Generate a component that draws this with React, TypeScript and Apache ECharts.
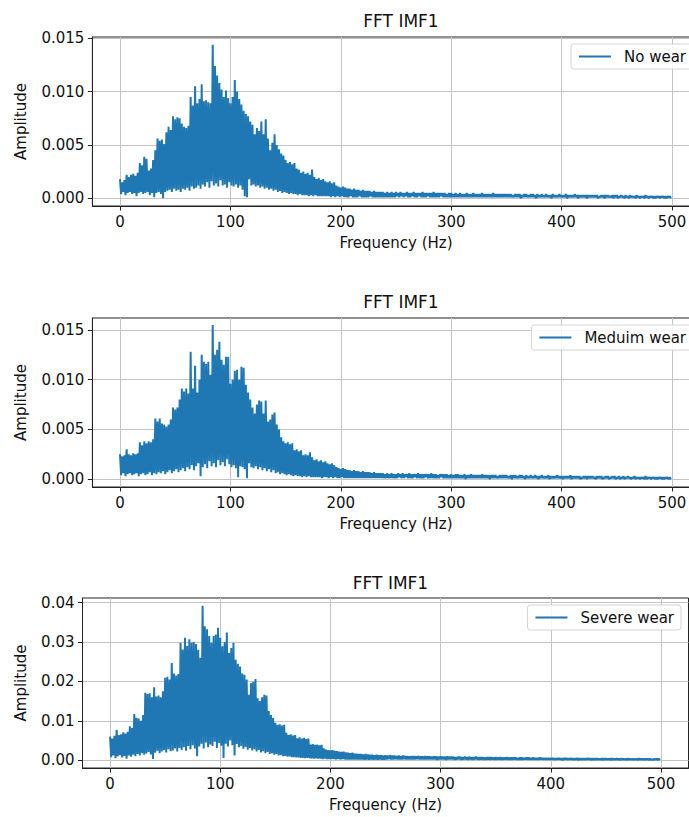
import React, { useEffect, useRef } from "react";
import * as echarts from "echarts";

// ---------------- data ----------------
const TITLE = "FFT IMF1";
const SERIES_NAMES = ["No wear", "Meduim wear", "Severe wear"];
const X_LABEL = "Frequency (Hz)";
const Y_LABEL = "Amplitude";
const X_TICKS = [0, 100, 200, 300, 400, 500];
const Y_TICKS_1 = [0, 0.005, 0.01, 0.015];
const Y_TICKS_2 = [0, 0.005, 0.01, 0.015];
const Y_TICKS_3 = [0, 0.01, 0.02, 0.03, 0.04];

// Spectrum samples: local maxima at even Hz and local minima at odd Hz.
// "Peaks"/"Troughs" cover 0..249 Hz, "TailPeaks"/"TailTroughs" cover 250..499 Hz.
const noWearPeaks = [
  0.0018, 0.0015, 0.0017, 0.0022, 0.0020, 0.0022, 0.0023, 0.0021, 0.0024, 0.0033, 0.0031, 0.0039, 0.0037, 0.0026, 0.0028, 0.0036,
  0.0045, 0.0056, 0.0054, 0.0055, 0.0051, 0.0062, 0.0067, 0.0064, 0.0077, 0.0074, 0.0076, 0.0075, 0.0070, 0.0067, 0.0066, 0.0068,
  0.0095, 0.0087, 0.0105, 0.0089, 0.0093, 0.0107, 0.0091, 0.0092, 0.0090, 0.0089, 0.0144, 0.0124, 0.0115, 0.0108, 0.0102, 0.0095,
  0.0101, 0.0094, 0.0089, 0.0095, 0.0111, 0.0100, 0.0093, 0.0088, 0.0082, 0.0079, 0.0077, 0.0072, 0.0069, 0.0060, 0.0066, 0.0063,
  0.0072, 0.0060, 0.0074, 0.0056, 0.0045, 0.0052, 0.0060, 0.0050, 0.0046, 0.0042, 0.0040, 0.0036, 0.0033, 0.0034, 0.0032, 0.0033,
  0.0028, 0.0027, 0.0024, 0.0025, 0.0023, 0.0024, 0.0022, 0.0027, 0.0020, 0.0018, 0.0019, 0.0017, 0.0018, 0.0016, 0.0015, 0.0016,
  0.0014, 0.0015, 0.0012, 0.0011, 0.0010, 0.0011, 0.0010, 0.0009, 0.0009, 0.0008, 0.0009, 0.0008, 0.0008, 0.0007, 0.0008, 0.0007,
  0.0007, 0.0007, 0.0006, 0.0007, 0.0006, 0.0006, 0.0006, 0.0006, 0.0005, 0.0006, 0.0005, 0.0006, 0.0005,
];
const noWearTroughs = [
  0.0004, 0.0006, 0.0003, 0.0005, 0.0006, 0.0004, 0.0005, 0.0002, 0.0005, 0.0006, 0.0004, 0.0005, 0.0006, 0.0003, 0.0005, 0.0001,
  0.0005, 0.0006, 0.0004, 0.0000, 0.0006, 0.0007, 0.0008, 0.0006, 0.0009, 0.0007, 0.0008, 0.0006, 0.0009, 0.0008, 0.0010, 0.0007,
  0.0011, 0.0009, 0.0010, 0.0012, 0.0009, 0.0013, 0.0011, 0.0015, 0.0010, 0.0016, 0.0012, 0.0014, 0.0011, 0.0017, 0.0012, 0.0013,
  0.0010, 0.0015, 0.0012, 0.0011, 0.0013, 0.0010, 0.0012, 0.0008, 0.0002, 0.0001, 0.0018, 0.0012, 0.0013, 0.0011, 0.0012, 0.0010,
  0.0011, 0.0009, 0.0010, 0.0008, 0.0009, 0.0007, 0.0008, 0.0006, 0.0007, 0.0005, 0.0006, 0.0005, 0.0004, 0.0005, 0.0004, 0.0004,
  0.0003, 0.0004, 0.0003, 0.0003, 0.0003, 0.0002, 0.0003, 0.0002, 0.0003, 0.0002, 0.0002, 0.0002, 0.0002, 0.0002, 0.0002, 0.0001,
  0.0002, 0.0001, 0.0002, 0.0001, 0.0002, 0.0001, 0.0001, 0.0001, 0.0002, 0.0001, 0.0001, 0.0001, 0.0002, 0.0001, 0.0001, 0.0001,
  0.0001, 0.0002, 0.0001, 0.0001, 0.0001, 0.0001, 0.0001, 0.0001, 0.0001, 0.0001, 0.0001, 0.0001, 0.0001,
];
const noWearTailPeaks = [
  0.0006, 0.0005, 0.0006, 0.0005, 0.0005, 0.0006, 0.0005, 0.0005, 0.0006, 0.0005, 0.0005, 0.0005, 0.0006, 0.0005, 0.0005, 0.0005, 0.0005, 0.0006, 0.0005, 0.0005, 0.0005, 0.0005, 0.0005, 0.0004, 0.0005,
  0.0005, 0.0004, 0.0005, 0.0004, 0.0005, 0.0004, 0.0004, 0.0005, 0.0004, 0.0004, 0.0005, 0.0004, 0.0004, 0.0004, 0.0005, 0.0004, 0.0004, 0.0004, 0.0004, 0.0005, 0.0004, 0.0004, 0.0004, 0.0004, 0.0004,
  0.0004, 0.0004, 0.0004, 0.0003, 0.0004, 0.0004, 0.0004, 0.0003, 0.0004, 0.0004, 0.0003, 0.0004, 0.0004, 0.0003, 0.0004, 0.0003, 0.0004, 0.0003, 0.0004, 0.0003, 0.0003, 0.0004, 0.0003, 0.0003, 0.0004,
  0.0003, 0.0003, 0.0004, 0.0003, 0.0003, 0.0003, 0.0004, 0.0003, 0.0003, 0.0003, 0.0003, 0.0003, 0.0003, 0.0003, 0.0003, 0.0003, 0.0003, 0.0002, 0.0003, 0.0003, 0.0003, 0.0003, 0.0002, 0.0003, 0.0003,
  0.0003, 0.0002, 0.0003, 0.0002, 0.0003, 0.0002, 0.0003, 0.0002, 0.0002, 0.0003, 0.0002, 0.0002, 0.0002, 0.0003, 0.0002, 0.0002, 0.0002, 0.0002, 0.0002, 0.0002, 0.0002, 0.0002, 0.0002, 0.0002, 0.0002,
];
const noWearTailTroughs = [
  0.0002, 0.0001, 0.0002, 0.0001, 0.0002, 0.0001, 0.0001, 0.0002, 0.0001, 0.0001, 0.0002, 0.0001, 0.0001, 0.0001, 0.0002, 0.0001, 0.0001, 0.0001, 0.0001, 0.0001, 0.0002, 0.0001, 0.0001, 0.0001, 0.0001,
  0.0001, 0.0001, 0.0001, 0.0001, 0.0001, 0.0001, 0.0001, 0.0001, 0.0001, 0.0001, 0.0001, 0.0001, 0.0001, 0.0001, 0.0001, 0.0001, 0.0001, 0.0001, 0.0001, 0.0001, 0.0001, 0.0001, 0.0001, 0.0001, 0.0001,
  0.0001, 0.0001, 0.0001, 0.0001, 0.0001, 0.0001, 0.0000, 0.0001, 0.0001, 0.0001, 0.0001, 0.0001, 0.0001, 0.0000, 0.0001, 0.0001, 0.0001, 0.0001, 0.0001, 0.0001, 0.0000, 0.0001, 0.0001, 0.0001, 0.0001,
  0.0001, 0.0001, 0.0000, 0.0001, 0.0001, 0.0001, 0.0001, 0.0000, 0.0001, 0.0001, 0.0001, 0.0000, 0.0001, 0.0001, 0.0001, 0.0001, 0.0000, 0.0001, 0.0001, 0.0000, 0.0001, 0.0001, 0.0001, 0.0000, 0.0001,
  0.0000, 0.0001, 0.0001, 0.0000, 0.0001, 0.0000, 0.0001, 0.0001, 0.0000, 0.0001, 0.0000, 0.0001, 0.0000, 0.0001, 0.0000, 0.0001, 0.0000, 0.0000, 0.0001, 0.0000, 0.0001, 0.0000, 0.0000, 0.0001, 0.0000,
];

const mediumWearPeaks = [
  0.0025, 0.0023, 0.0024, 0.0030, 0.0025, 0.0024, 0.0026, 0.0025, 0.0026, 0.0037, 0.0034, 0.0038, 0.0036, 0.0038, 0.0037, 0.0040,
  0.0061, 0.0058, 0.0061, 0.0056, 0.0055, 0.0053, 0.0055, 0.0060, 0.0072, 0.0070, 0.0072, 0.0080, 0.0091, 0.0088, 0.0091, 0.0086,
  0.0128, 0.0091, 0.0114, 0.0087, 0.0100, 0.0125, 0.0118, 0.0116, 0.0118, 0.0105, 0.0155, 0.0125, 0.0130, 0.0138, 0.0120, 0.0115,
  0.0123, 0.0123, 0.0096, 0.0100, 0.0109, 0.0110, 0.0100, 0.0113, 0.0112, 0.0095, 0.0087, 0.0080, 0.0072, 0.0066, 0.0075, 0.0079,
  0.0078, 0.0066, 0.0079, 0.0058, 0.0060, 0.0065, 0.0067, 0.0055, 0.0050, 0.0042, 0.0038, 0.0036, 0.0037, 0.0035, 0.0036, 0.0029,
  0.0030, 0.0028, 0.0029, 0.0024, 0.0025, 0.0024, 0.0027, 0.0022, 0.0019, 0.0020, 0.0018, 0.0019, 0.0017, 0.0018, 0.0016, 0.0015,
  0.0016, 0.0014, 0.0012, 0.0011, 0.0010, 0.0011, 0.0010, 0.0009, 0.0009, 0.0008, 0.0009, 0.0008, 0.0008, 0.0007, 0.0008, 0.0007,
  0.0007, 0.0007, 0.0006, 0.0007, 0.0006, 0.0006, 0.0006, 0.0006, 0.0005, 0.0006, 0.0005, 0.0006, 0.0005,
];
const mediumWearTroughs = [
  0.0004, 0.0006, 0.0003, 0.0005, 0.0006, 0.0004, 0.0005, 0.0006, 0.0003, 0.0005, 0.0006, 0.0004, 0.0005, 0.0007, 0.0004, 0.0006,
  0.0005, 0.0007, 0.0006, 0.0008, 0.0005, 0.0007, 0.0009, 0.0006, 0.0008, 0.0010, 0.0007, 0.0009, 0.0011, 0.0008, 0.0012, 0.0010,
  0.0014, 0.0009, 0.0013, 0.0016, 0.0003, 0.0012, 0.0015, 0.0011, 0.0018, 0.0013, 0.0016, 0.0012, 0.0019, 0.0014, 0.0017, 0.0013,
  0.0020, 0.0015, 0.0012, 0.0014, 0.0011, 0.0002, 0.0013, 0.0012, 0.0010, 0.0001, 0.0016, 0.0012, 0.0011, 0.0013, 0.0010, 0.0012,
  0.0009, 0.0011, 0.0008, 0.0010, 0.0007, 0.0009, 0.0006, 0.0007, 0.0005, 0.0006, 0.0005, 0.0004, 0.0005, 0.0004, 0.0003, 0.0004,
  0.0003, 0.0003, 0.0002, 0.0003, 0.0002, 0.0003, 0.0002, 0.0002, 0.0002, 0.0002, 0.0002, 0.0001, 0.0002, 0.0002, 0.0001, 0.0002,
  0.0001, 0.0002, 0.0001, 0.0001, 0.0002, 0.0001, 0.0001, 0.0001, 0.0001, 0.0001, 0.0001, 0.0001, 0.0001, 0.0001, 0.0001, 0.0001,
  0.0001, 0.0001, 0.0001, 0.0001, 0.0001, 0.0001, 0.0001, 0.0001, 0.0001, 0.0001, 0.0001, 0.0001, 0.0001,
];
const mediumWearTailPeaks = [
  0.0005, 0.0006, 0.0005, 0.0006, 0.0005, 0.0005, 0.0006, 0.0005, 0.0005, 0.0005, 0.0006, 0.0005, 0.0005, 0.0005, 0.0005, 0.0005, 0.0006, 0.0005, 0.0005, 0.0004, 0.0005, 0.0005, 0.0005, 0.0005, 0.0004,
  0.0005, 0.0004, 0.0005, 0.0005, 0.0004, 0.0004, 0.0005, 0.0004, 0.0004, 0.0005, 0.0004, 0.0004, 0.0004, 0.0004, 0.0005, 0.0004, 0.0004, 0.0004, 0.0004, 0.0004, 0.0004, 0.0003, 0.0004, 0.0004, 0.0004,
  0.0004, 0.0003, 0.0004, 0.0004, 0.0004, 0.0003, 0.0004, 0.0004, 0.0003, 0.0004, 0.0003, 0.0004, 0.0003, 0.0004, 0.0003, 0.0003, 0.0004, 0.0003, 0.0003, 0.0004, 0.0003, 0.0003, 0.0003, 0.0004, 0.0003,
  0.0003, 0.0003, 0.0003, 0.0003, 0.0004, 0.0003, 0.0003, 0.0003, 0.0003, 0.0002, 0.0003, 0.0003, 0.0003, 0.0003, 0.0003, 0.0002, 0.0003, 0.0003, 0.0003, 0.0002, 0.0003, 0.0003, 0.0002, 0.0003, 0.0003,
  0.0002, 0.0003, 0.0002, 0.0003, 0.0002, 0.0003, 0.0002, 0.0002, 0.0003, 0.0002, 0.0002, 0.0002, 0.0002, 0.0003, 0.0002, 0.0002, 0.0002, 0.0002, 0.0002, 0.0002, 0.0002, 0.0002, 0.0002, 0.0002, 0.0002,
];
const mediumWearTailTroughs = [
  0.0001, 0.0002, 0.0001, 0.0001, 0.0002, 0.0001, 0.0001, 0.0001, 0.0002, 0.0001, 0.0001, 0.0001, 0.0001, 0.0002, 0.0001, 0.0001, 0.0001, 0.0001, 0.0001, 0.0001, 0.0002, 0.0001, 0.0001, 0.0001, 0.0001,
  0.0001, 0.0001, 0.0001, 0.0001, 0.0001, 0.0001, 0.0000, 0.0001, 0.0001, 0.0001, 0.0001, 0.0001, 0.0001, 0.0001, 0.0001, 0.0001, 0.0001, 0.0000, 0.0001, 0.0001, 0.0001, 0.0001, 0.0001, 0.0001, 0.0001,
  0.0001, 0.0001, 0.0000, 0.0001, 0.0001, 0.0001, 0.0001, 0.0001, 0.0000, 0.0001, 0.0001, 0.0001, 0.0001, 0.0001, 0.0000, 0.0001, 0.0001, 0.0001, 0.0001, 0.0000, 0.0001, 0.0001, 0.0001, 0.0001, 0.0001,
  0.0000, 0.0001, 0.0001, 0.0001, 0.0000, 0.0001, 0.0001, 0.0001, 0.0000, 0.0001, 0.0001, 0.0000, 0.0001, 0.0001, 0.0001, 0.0000, 0.0001, 0.0001, 0.0000, 0.0001, 0.0001, 0.0000, 0.0001, 0.0001, 0.0000,
  0.0001, 0.0000, 0.0001, 0.0000, 0.0001, 0.0001, 0.0000, 0.0001, 0.0000, 0.0001, 0.0000, 0.0001, 0.0000, 0.0000, 0.0001, 0.0000, 0.0001, 0.0000, 0.0000, 0.0001, 0.0000, 0.0000, 0.0001, 0.0000, 0.0000,
];

const severeWearPeaks = [
  0.0060, 0.0055, 0.0062, 0.0077, 0.0064, 0.0066, 0.0071, 0.0068, 0.0072, 0.0086, 0.0082, 0.0117, 0.0108, 0.0106, 0.0100, 0.0115,
  0.0171, 0.0168, 0.0170, 0.0160, 0.0185, 0.0162, 0.0164, 0.0160, 0.0175, 0.0209, 0.0212, 0.0205, 0.0247, 0.0220, 0.0215, 0.0219,
  0.0298, 0.0281, 0.0311, 0.0290, 0.0307, 0.0298, 0.0300, 0.0295, 0.0280, 0.0260, 0.0392, 0.0340, 0.0332, 0.0315, 0.0298, 0.0315,
  0.0319, 0.0336, 0.0311, 0.0289, 0.0300, 0.0324, 0.0272, 0.0285, 0.0298, 0.0255, 0.0245, 0.0238, 0.0220, 0.0217, 0.0205, 0.0166,
  0.0196, 0.0199, 0.0206, 0.0157, 0.0150, 0.0160, 0.0166, 0.0164, 0.0125, 0.0115, 0.0107, 0.0095, 0.0090, 0.0091, 0.0088, 0.0090,
  0.0070, 0.0064, 0.0066, 0.0063, 0.0064, 0.0056, 0.0058, 0.0055, 0.0057, 0.0054, 0.0055, 0.0040, 0.0041, 0.0039, 0.0040, 0.0038,
  0.0039, 0.0030, 0.0027, 0.0026, 0.0025, 0.0026, 0.0024, 0.0023, 0.0022, 0.0021, 0.0022, 0.0020, 0.0019, 0.0018, 0.0019, 0.0017,
  0.0017, 0.0016, 0.0016, 0.0015, 0.0016, 0.0015, 0.0014, 0.0014, 0.0013, 0.0014, 0.0013, 0.0013, 0.0012,
];
const severeWearTroughs = [
  0.0008, 0.0012, 0.0005, 0.0010, 0.0013, 0.0007, 0.0011, 0.0004, 0.0012, 0.0009, 0.0014, 0.0010, 0.0016, 0.0012, 0.0018, 0.0014,
  0.0017, 0.0021, 0.0015, 0.0003, 0.0019, 0.0024, 0.0018, 0.0022, 0.0026, 0.0020, 0.0028, 0.0023, 0.0025, 0.0030, 0.0022, 0.0031,
  0.0026, 0.0033, 0.0024, 0.0036, 0.0028, 0.0038, 0.0030, 0.0010, 0.0035, 0.0042, 0.0030, 0.0045, 0.0033, 0.0040, 0.0036, 0.0047,
  0.0031, 0.0044, 0.0037, 0.0006, 0.0042, 0.0035, 0.0050, 0.0038, 0.0012, 0.0041, 0.0033, 0.0036, 0.0029, 0.0034, 0.0027, 0.0031,
  0.0025, 0.0028, 0.0022, 0.0026, 0.0020, 0.0023, 0.0018, 0.0021, 0.0016, 0.0018, 0.0014, 0.0016, 0.0012, 0.0013, 0.0010, 0.0011,
  0.0009, 0.0010, 0.0008, 0.0008, 0.0007, 0.0007, 0.0006, 0.0006, 0.0005, 0.0006, 0.0005, 0.0005, 0.0004, 0.0005, 0.0004, 0.0004,
  0.0003, 0.0004, 0.0003, 0.0003, 0.0003, 0.0003, 0.0002, 0.0003, 0.0002, 0.0003, 0.0002, 0.0002, 0.0002, 0.0002, 0.0002, 0.0002,
  0.0002, 0.0002, 0.0002, 0.0001, 0.0002, 0.0001, 0.0002, 0.0001, 0.0002, 0.0001, 0.0002, 0.0001, 0.0001,
];
const severeWearTailPeaks = [
  0.0013, 0.0012, 0.0013, 0.0012, 0.0012, 0.0011, 0.0012, 0.0011, 0.0012, 0.0011, 0.0011, 0.0010, 0.0011, 0.0011, 0.0010, 0.0011, 0.0010, 0.0010, 0.0011, 0.0010, 0.0010, 0.0009, 0.0010, 0.0010, 0.0009,
  0.0010, 0.0009, 0.0009, 0.0010, 0.0009, 0.0009, 0.0009, 0.0008, 0.0009, 0.0009, 0.0008, 0.0009, 0.0008, 0.0009, 0.0008, 0.0008, 0.0009, 0.0008, 0.0008, 0.0008, 0.0007, 0.0008, 0.0008, 0.0008, 0.0007,
  0.0008, 0.0007, 0.0008, 0.0007, 0.0007, 0.0008, 0.0007, 0.0007, 0.0007, 0.0007, 0.0006, 0.0007, 0.0007, 0.0006, 0.0007, 0.0007, 0.0006, 0.0007, 0.0006, 0.0006, 0.0007, 0.0006, 0.0006, 0.0006, 0.0006,
  0.0006, 0.0006, 0.0005, 0.0006, 0.0006, 0.0005, 0.0006, 0.0006, 0.0005, 0.0006, 0.0005, 0.0005, 0.0006, 0.0005, 0.0005, 0.0005, 0.0005, 0.0006, 0.0005, 0.0005, 0.0005, 0.0005, 0.0004, 0.0005, 0.0005,
  0.0005, 0.0004, 0.0005, 0.0005, 0.0004, 0.0005, 0.0004, 0.0005, 0.0004, 0.0004, 0.0005, 0.0004, 0.0004, 0.0004, 0.0004, 0.0005, 0.0004, 0.0004, 0.0004, 0.0004, 0.0004, 0.0003, 0.0004, 0.0004, 0.0004,
];
const severeWearTailTroughs = [
  0.0002, 0.0003, 0.0002, 0.0002, 0.0003, 0.0002, 0.0002, 0.0002, 0.0003, 0.0002, 0.0002, 0.0002, 0.0002, 0.0002, 0.0003, 0.0002, 0.0002, 0.0002, 0.0002, 0.0002, 0.0002, 0.0002, 0.0002, 0.0001, 0.0002,
  0.0002, 0.0002, 0.0001, 0.0002, 0.0002, 0.0002, 0.0001, 0.0002, 0.0002, 0.0001, 0.0002, 0.0002, 0.0001, 0.0002, 0.0001, 0.0002, 0.0002, 0.0001, 0.0002, 0.0001, 0.0001, 0.0002, 0.0001, 0.0002, 0.0001,
  0.0001, 0.0002, 0.0001, 0.0001, 0.0002, 0.0001, 0.0001, 0.0001, 0.0002, 0.0001, 0.0001, 0.0001, 0.0001, 0.0002, 0.0001, 0.0001, 0.0001, 0.0001, 0.0001, 0.0001, 0.0002, 0.0001, 0.0001, 0.0001, 0.0001,
  0.0001, 0.0001, 0.0001, 0.0001, 0.0001, 0.0000, 0.0001, 0.0001, 0.0001, 0.0001, 0.0001, 0.0001, 0.0000, 0.0001, 0.0001, 0.0001, 0.0001, 0.0001, 0.0000, 0.0001, 0.0001, 0.0001, 0.0001, 0.0000, 0.0001,
  0.0001, 0.0001, 0.0000, 0.0001, 0.0001, 0.0001, 0.0000, 0.0001, 0.0001, 0.0000, 0.0001, 0.0001, 0.0000, 0.0001, 0.0000, 0.0001, 0.0001, 0.0000, 0.0001, 0.0000, 0.0001, 0.0000, 0.0001, 0.0000, 0.0000,
];

// axis limits of each panel
const X_RANGE = [-25, 525];
const Y_RANGE_1 = [-0.00072, 0.01512];
const Y_RANGE_2 = [-0.00079, 0.0162];
const Y_RANGE_3 = [-0.00196, 0.04116];

// ---------------- helpers ----------------
function buildSpectrum(peaks: number[], troughs: number[], tailPeaks: number[], tailTroughs: number[]) {
  const pts: number[][] = [];
  const allPeaks = peaks.concat(tailPeaks);
  const allTroughs = troughs.concat(tailTroughs);
  allPeaks.forEach((p, i) => {
    pts.push([2 * i, p]);
    if (allTroughs[i] !== undefined) pts.push([2 * i + 1, allTroughs[i]]);
  });
  return pts;
}

const FONT = "DejaVu Sans";
const TXT = "#111";
const LINE_COLOR = "#1f77b4";

export default function App() {
  const ref = useRef<HTMLDivElement>(null);

  useEffect(() => {
    document.body.style.margin = "0";
    if (!ref.current) return;
    const chart = echarts.init(ref.current, undefined, { renderer: "svg" });

    const panels = [
      {
        name: SERIES_NAMES[0],
        data: buildSpectrum(noWearPeaks, noWearTroughs, noWearTailPeaks, noWearTailTroughs),
        yRange: Y_RANGE_1, yTicks: Y_TICKS_1, dec: 3,
        grid: { left: 92.4, top: 37, width: 607.2, height: 169 },
        titleX: 396, titleTop: 7, legendRight: -4, nameGap: 64,
      },
      {
        name: SERIES_NAMES[1],
        data: buildSpectrum(mediumWearPeaks, mediumWearTroughs, mediumWearTailPeaks, mediumWearTailTroughs),
        yRange: Y_RANGE_2, yTicks: Y_TICKS_2, dec: 3,
        grid: { left: 92.4, top: 318, width: 607.2, height: 169 },
        titleX: 396, titleTop: 288, legendRight: -4, nameGap: 64,
      },
      {
        name: SERIES_NAMES[2],
        data: buildSpectrum(severeWearPeaks, severeWearTroughs, severeWearTailPeaks, severeWearTailTroughs),
        yRange: Y_RANGE_3, yTicks: Y_TICKS_3, dec: 2,
        grid: { left: 82.5, top: 598, width: 606, height: 170 },
        titleX: 385.5, titleTop: 569, legendRight: 8, nameGap: 54,
      },
    ];

    const labelStyle = { fontFamily: FONT, fontSize: 15, color: TXT };

    const option: any = {
      animation: false,
      backgroundColor: "#fff",
      title: panels.map((p) => ({
        text: TITLE,
        left: p.titleX,
        top: p.titleTop,
        textAlign: "center",
        textStyle: { fontFamily: FONT, fontSize: 17, fontWeight: "normal", color: TXT },
      })),
      legend: panels.map((p) => ({
        data: [p.name],
        right: p.legendRight,
        top: p.grid.top + 7,
        orient: "vertical",
        icon: "rect",
        itemWidth: 32,
        itemHeight: 2,
        padding: [5, 7, 5, 8],
        backgroundColor: "rgba(255,255,255,0.85)",
        borderColor: "#d4d4d4",
        borderWidth: 1,
        borderRadius: 3,
        selectedMode: false,
        textStyle: { ...labelStyle, padding: [0, 0, 0, 8] },
      })),
      grid: panels.map((p) => ({
        ...p.grid,
        show: true,
        borderColor: "#222",
        borderWidth: 1,
        backgroundColor: "transparent",
        containLabel: false,
        outerBoundsMode: "none",
      })),
      xAxis: panels.map((p, i) => ({
        type: "value",
        gridIndex: i,
        min: X_RANGE[0],
        max: X_RANGE[1],
        minInterval: 100,
        maxInterval: 100,
        axisLine: { show: true, onZero: false, lineStyle: { color: "#222", width: 1 } },
        axisTick: { show: true, length: 4.5, customValues: X_TICKS, lineStyle: { color: "#222" } },
        axisLabel: { ...labelStyle, margin: 8, customValues: X_TICKS },
        splitLine: { show: true, lineStyle: { color: "#c4c4c4", width: 1 } },
        name: X_LABEL,
        nameLocation: "middle",
        nameGap: 29,
        nameTextStyle: labelStyle,
      })),
      yAxis: panels.map((p, i) => ({
        type: "value",
        gridIndex: i,
        min: p.yRange[0],
        max: p.yRange[1],
        minInterval: p.yTicks[1],
        maxInterval: p.yTicks[1],
        axisLine: { show: true, onZero: false, lineStyle: { color: "#222", width: 1 } },
        axisTick: { show: true, length: 4.5, customValues: p.yTicks, lineStyle: { color: "#222" } },
        axisLabel: {
          ...labelStyle,
          margin: 8,
          customValues: p.yTicks,
          formatter: (v: number) => v.toFixed(p.dec),
        },
        splitLine: { show: true, lineStyle: { color: "#c4c4c4", width: 1 } },
        name: Y_LABEL,
        nameLocation: "middle",
        nameGap: p.nameGap,
        nameTextStyle: labelStyle,
      })),
      series: panels.map((p, i) => ({
        type: "line",
        name: p.name,
        xAxisIndex: i,
        yAxisIndex: i,
        data: p.data,
        showSymbol: false,
        symbol: "none",
        lineStyle: { color: LINE_COLOR, width: 2 },
        itemStyle: { color: LINE_COLOR },
        emphasis: { disabled: true },
        clip: true,
        z: 3,
      })),
    };

    chart.setOption(option);
    return () => chart.dispose();
  }, []);

  return <div ref={ref} style={{ width: 689, height: 817 }} />;
}
